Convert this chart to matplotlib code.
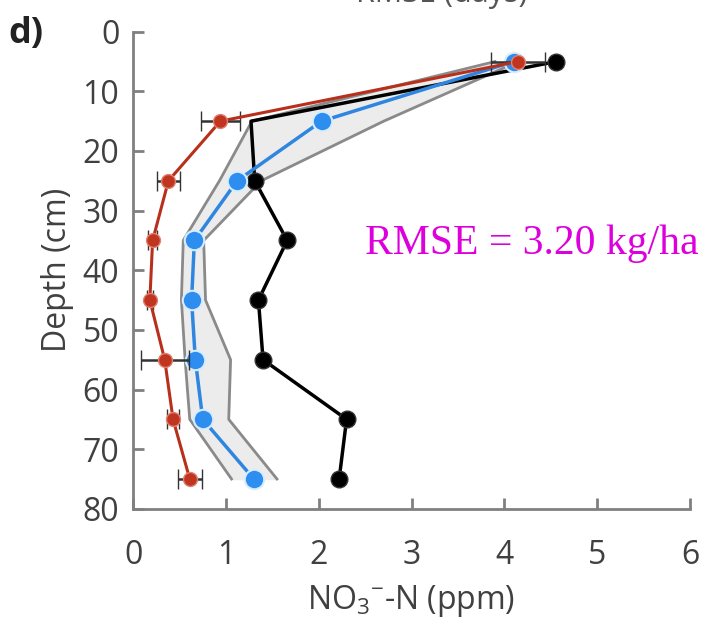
import numpy as np
import matplotlib
matplotlib.use('Agg')
import matplotlib.pyplot as plt

plt.rcParams['font.family'] = ['Open Sans', 'DejaVu Sans']
plt.rcParams['mathtext.default'] = 'regular'

# depths (cm)
depth = [5, 15, 25, 35, 45, 55, 65, 75]

# observed (black) - no marker drawn at 15 cm
obs = [4.56, 1.27, 1.31, 1.66, 1.35, 1.40, 2.30, 2.22]

# simulated mean (blue) and its uncertainty band
sim = [4.10, 2.03, 1.12, 0.66, 0.63, 0.67, 0.75, 1.30]
band_lo = [3.90, 1.28, 0.93, 0.54, 0.52, 0.56, 0.61, 1.06]
band_hi = [4.15, 2.70, 1.38, 0.76, 0.78, 1.05, 1.03, 1.55]

# second measurement (red) with error bars
red = [4.15, 0.94, 0.38, 0.21, 0.18, 0.34, 0.43, 0.61]
red_err = [0.29, 0.21, 0.12, 0.05, 0.03, 0.26, 0.06, 0.13]

xticks = [0, 1, 2, 3, 4, 5, 6]
yticks = [0, 10, 20, 30, 40, 50, 60, 70, 80]

fig = plt.figure(figsize=(7.12, 6.22), dpi=100)
ax = fig.add_axes([0.187, 0.182, 0.782, 0.767])

ax.fill_betweenx(depth, band_lo, band_hi, color='#ececec', zorder=1)
ax.plot(band_lo, depth, color='#8a8a8a', lw=2, zorder=2)
ax.plot(band_hi, depth, color='#8a8a8a', lw=2, zorder=2)

ax.plot(obs, depth, color='black', lw=2.5, marker='o', ms=12,
        markevery=[0, 2, 3, 4, 5, 6, 7], mfc='black', mec='#333333', zorder=3)

ax.plot(sim, depth, color='#2e86e0', lw=2.5, marker='o', ms=14,
        mfc='#2e8ef0', mec='#d8ecff', mew=1.5, zorder=4)

ax.errorbar(red, depth, xerr=red_err, color='#b8301c', lw=2.2, marker='o', ms=10,
            mfc='#c0351f', mec='#e08070', mew=1, ecolor='#333333', elinewidth=1.8,
            capsize=7, capthick=1.8, zorder=5)

ax.set_xlim(0, 6)
ax.set_ylim(80, 0)
ax.set_xticks(xticks)
ax.set_yticks(yticks)
for s in ['top', 'right']:
    ax.spines[s].set_visible(False)
for s in ['left', 'bottom']:
    ax.spines[s].set_color('#808080')
    ax.spines[s].set_linewidth(2)
ax.tick_params(direction='in', length=8, width=2, color='#808080',
               labelsize=23, labelcolor='#404040')
ax.tick_params(axis='x', pad=22)
ax.tick_params(axis='y', pad=10)

ax.set_xlabel(r'NO$_3$$^{-}$-N (ppm)', fontsize=23, color='#404040', labelpad=8)
ax.set_ylabel('Depth (cm)', fontsize=23, color='#404040', labelpad=6)

ax.text(2.5, 35.5, 'RMSE = 3.20 kg/ha', color='#dd00dd', fontsize=30,
        family='Liberation Serif', va='center', ha='left')

fig.text(0.012, 0.945, 'd)', fontsize=26, fontweight='bold', color='#222222', va='center')
fig.text(0.62, 1.01, 'RMSE (days)', fontsize=22, color='#555555', ha='center', va='center')

fig.savefig('out.png', dpi=100)
